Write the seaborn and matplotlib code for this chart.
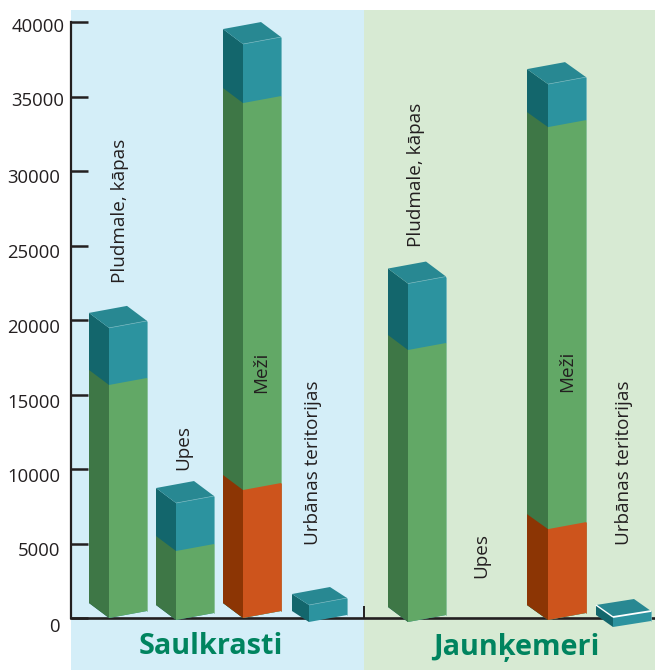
import matplotlib
matplotlib.use("Agg")
import matplotlib.pyplot as plt
from matplotlib.transforms import Affine2D, ScaledTranslation
import numpy as np
import pandas as pd
import seaborn as sns

regions = ["Saulkrasti", "Jaunķemeri"]
categories = ["Pludmale, kāpas", "Upes", "Meži", "Urbānas teritorijas"]
y_ticks = [0, 5000, 10000, 15000, 20000, 25000, 30000, 35000, 40000]

seg_orange = [0, 0, 8590, 0, 0, 0, 6100, 0]
seg_green = [15640, 4630, 25970, 0, 18255, 0, 26980, 0]
seg_teal = [3830, 3220, 3960, 1140, 4460, 0, 2885, 670]

# ---- layout (pixels of the reference) ----
W, H = 655, 670
AX_L, AX_T = 71, 10
ZERO_PX = 618
PX_PER_UNIT = 0.0149
BAR_W = 38
front_left_px = [109, 176, 243, 309, 408, 478, 548, 613]
base_shift_px = [0, 2, 0, 4, 4, 0, 2, 9]
depth_x_px = [20, 20, 20, 17, 20, 20, 21, 17]
depth_y_px = [15, 15, 15, 11, 15, 15, 15, 12]
rise_px = [7, 7, 7, 7, 7, 7, 7, 6]


def val(py):
    return (ZERO_PX - py) / PX_PER_UNIT


def dx(px):
    return px - AX_L


sns.set_theme(style="white")
plt.rcParams["font.family"] = ["Open Sans", "DejaVu Sans"]
INK = "#231F20"

fig = plt.figure(figsize=(W / 100, H / 100), dpi=100, facecolor="white")
ax = fig.add_axes([AX_L / W, 0, (W - AX_L) / W, (H - AX_T) / H])
ax.set_facecolor("white")

centers = [dx(p) + BAR_W / 2 for p in front_left_px]
width_rel = BAR_W / min(np.diff(centers))

teal = np.array(seg_teal)
green = np.array(seg_green)
orange = np.array(seg_orange)
stacks = [
    (orange + green + teal, "#2C939F", "#13666C", "#63B0B9"),
    (orange + green, "#62A866", "#3E7746", "#8DC391"),
    (orange, "#CD541C", "#8C3504", "#CD541C"),
]

ax.axvspan(0, dx(364), color="#D4EEF8", lw=0, zorder=0)
ax.axvspan(dx(364), W - AX_L, color="#D7EAD3", lw=0, zorder=0)

for s, (totals, col_front, col_side, col_edge) in enumerate(stacks):
    n = len(ax.patches)
    df = pd.DataFrame({"x": centers, "y": totals})
    z = 3 + s * 0.1
    sns.barplot(data=df, x="x", y="y", native_scale=True, color=col_front,
                saturation=1, width=width_rel, errorbar=None, ax=ax,
                zorder=z, linewidth=0, legend=False)
    for i, rect in enumerate(ax.patches[n:]):
        xl = dx(front_left_px[i])
        base = -base_shift_px[i] / PX_PER_UNIT
        k = (rise_px[i] / BAR_W) / PX_PER_UNIT
        rect.set_transform(Affine2D.from_values(1, k, 0, 1, 0, base - k * xl) + ax.transData)
        h = totals[i]
        if h <= 0:
            continue
        ddx, ddy = depth_x_px[i], depth_y_px[i] / PX_PER_UNIT
        r = rise_px[i] / PX_PER_UNIT
        ax.fill([xl, xl - ddx, xl - ddx, xl],
                [base, base + ddy, base + h + ddy, base + h],
                color=col_side, lw=0, zorder=z)
        # thin lighter edge on the right of the front face
        ax.plot([xl + BAR_W, xl + BAR_W], [base + r, base + h + r], color=col_edge,
                lw=0.6, zorder=z, solid_capstyle="butt")
        if s == 0:
            ax.fill([xl, xl - ddx, xl - ddx + BAR_W, xl + BAR_W],
                    [base + h, base + h + ddy, base + h + ddy + r, base + h + r],
                    color="#288892", lw=0, zorder=3.05)
            edge = "white" if i == 7 else "#6FB3BB"
            ax.plot([xl, xl + BAR_W], [base + h, base + h + r], color=edge,
                    lw=1.3 if i == 7 else 0.5, zorder=3.06, solid_capstyle="butt")
            if i == 7:
                ax.plot([xl, xl - ddx], [base + h, base + h + ddy], color="white",
                        lw=1.0, zorder=3.06, solid_capstyle="butt")

ax.set_xlim(0, W - AX_L)
ax.set_ylim(val(H), val(AX_T))
ax.set_xlabel("")
ax.set_ylabel("")

# axes
for side in ("top", "right"):
    ax.spines[side].set_visible(False)
ax.spines["left"].set_bounds(0, 40000)
ax.spines["left"].set_linewidth(1.6)
ax.spines["left"].set_color(INK)
ax.spines["bottom"].set_position(("data", 0))
ax.spines["bottom"].set_linewidth(1.9)
ax.spines["bottom"].set_color(INK)
ax.set_xticks([dx(364)])
ax.set_xticklabels([""])
ax.set_yticks(y_ticks)
ax.set_yticklabels([str(t) for t in y_ticks], fontsize=13.3, color=INK)
ax.tick_params(axis="y", direction="in", length=12.2, width=1.8, color=INK, pad=8.6, left=True)
ax.tick_params(axis="x", direction="in", length=8.5, width=1.4, color=INK, bottom=True)

label_shift = {40000: (6, -3), 35000: (5, -2), 30000: (1, -5), 25000: (1, -6), 20000: (1, -6),
               15000: (1, -6), 10000: (1, -6), 5000: (1, -6), 0: (1, -7)}
for t, lab in zip(y_ticks, ax.get_yticklabels()):
    sx, sy = label_shift[t]
    lab.set_transform(lab.get_transform() + ScaledTranslation(sx / 100, sy / 100, fig.dpi_scale_trans))

# rotated category labels: (x centre px, bottom px)
label_spots = [(120, 283), (183, 470), (261, 393), (313, 545),
               (416, 247), (481, 578), (567, 392), (624, 545)]
for i, (px, py) in enumerate(label_spots):
    ax.text(dx(px), val(py), categories[i % 4], rotation=90, ha="center", va="bottom",
            fontsize=13.6, color=INK, zorder=5)

for name, px in zip(regions, (211, 516)):
    ax.text(dx(px), val(647), name, ha="center", va="center", fontsize=20.8,
            fontweight="bold", color="#00845F", zorder=5)

fig.savefig("out.png", dpi=100, facecolor="white")
